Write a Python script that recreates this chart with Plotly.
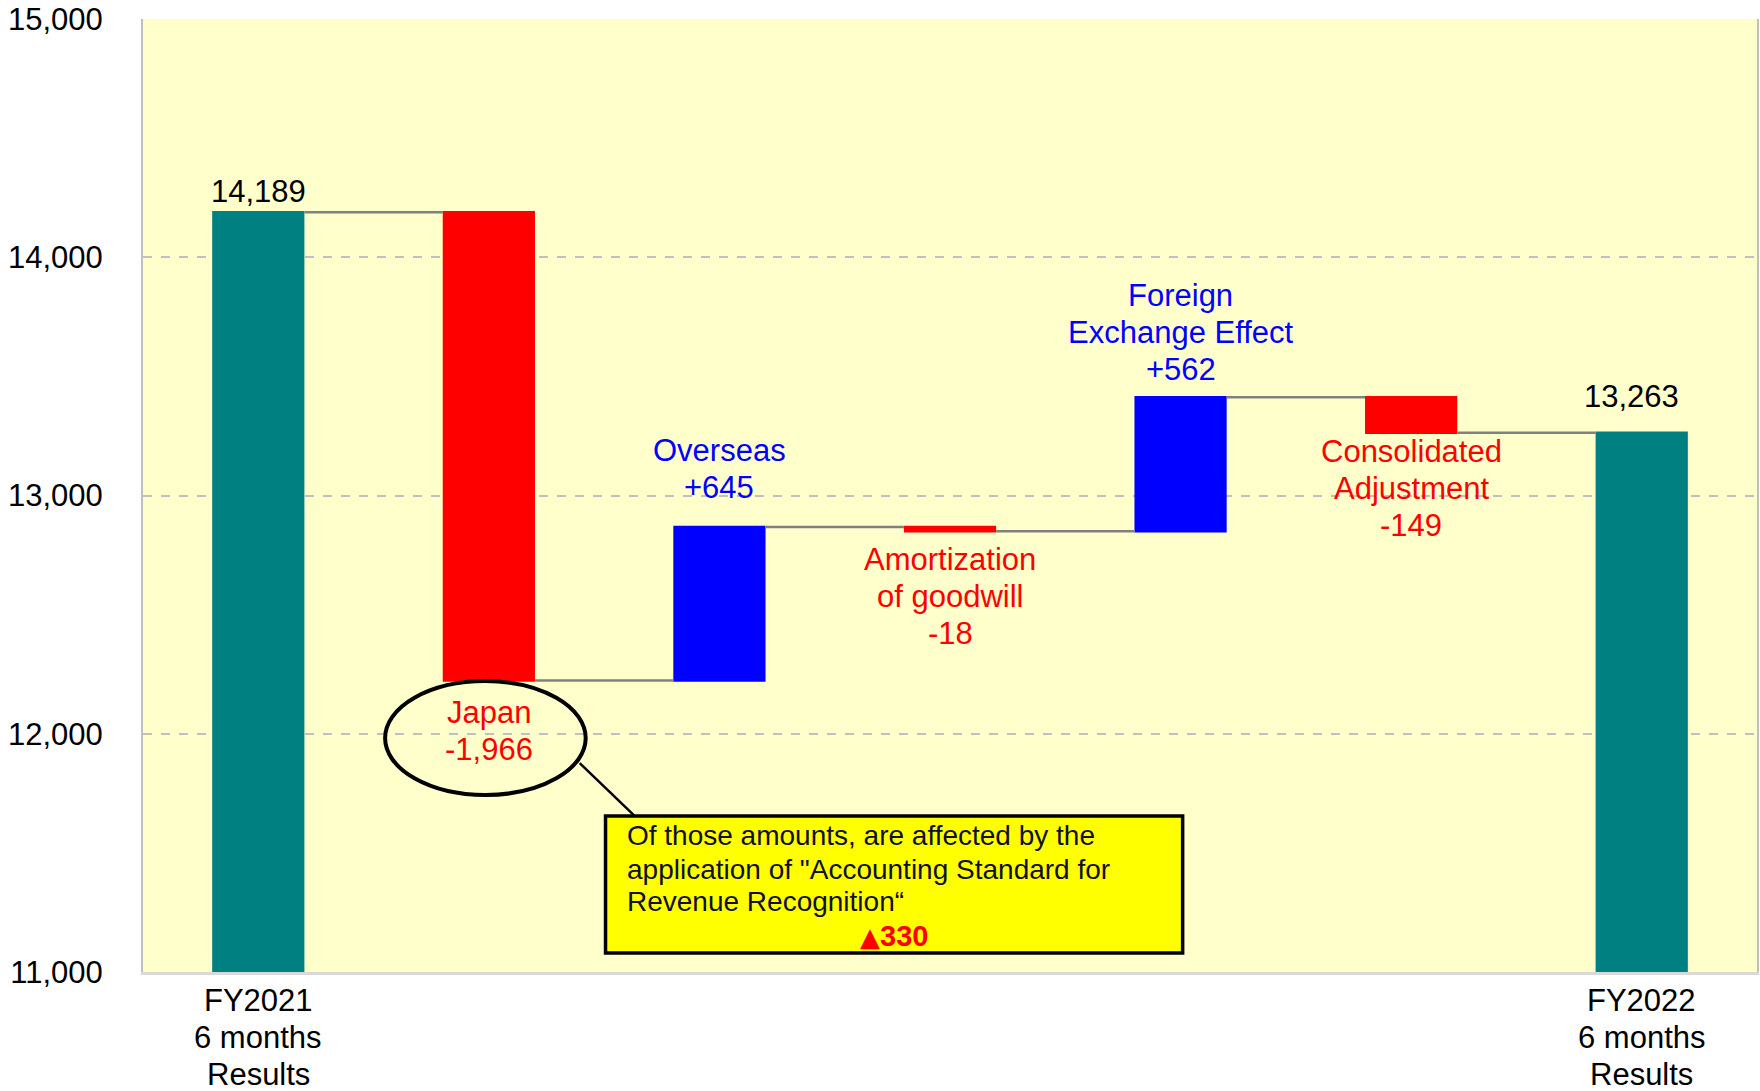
import plotly.graph_objects as go

# ---- data ----
categories = ["FY2021 6 months Results", "Japan", "Overseas", "Amortization of goodwill",
              "Foreign Exchange Effect", "Consolidated Adjustment", "FY2022 6 months Results"]
tick_text = ["FY2021<br>6 months<br>Results", "", "", "", "", "", "FY2022<br>6 months<br>Results"]
values = [14189, -1966, 645, -18, 562, -149, 13263]
measures = ["absolute", "relative", "relative", "relative", "relative", "relative", "total"]
label_text = ["14,189", "Japan<br>-1,966", "Overseas<br>+645", "Amortization<br>of goodwill<br>-18",
              "Foreign<br>Exchange Effect<br>+562", "Consolidated<br>Adjustment<br>-149", "13,263"]
y_ticks = [11000, 12000, 13000, 14000, 15000]
note_lines = ["Of those amounts, are affected by the",
              'application of "Accounting Standard for',
              "Revenue Recognition“"]
note_mark = "▲"
note_value = "330"

FONT = "Liberation Sans, Arial, sans-serif"
TEAL, RED, BLUE = "#008080", "#FF0000", "#0000FF"
LINE = 37  # px between text lines

x_idx = list(range(len(categories)))

fig = go.Figure(go.Waterfall(
    x=x_idx, y=values, measure=measures,
    increasing=dict(marker=dict(color=BLUE)),
    decreasing=dict(marker=dict(color=RED)),
    totals=dict(marker=dict(color=TEAL)),
    connector=dict(line=dict(color="#808080", width=2.5)),
    hoverinfo="skip",
))

# running levels for label placement
levels = []
running = 0
for v, m in zip(values, measures):
    if m == "absolute":
        start, end = 0, v
        running = v
    elif m == "total":
        start, end = 0, running
    else:
        start, end = running, running + v
        running += v
    levels.append((start, end))

colors = ["black", RED, BLUE, RED, BLUE, RED, "black"]
first_offset = [21, 32, 39, 28, 28, 19, 36]
xshifts = [0, 0, 0, 0, 0, 0, -10]
for i, (txt, (s, e)) in enumerate(zip(label_text, levels)):
    lines = txt.split("<br>")
    above = not (measures[i] == "relative" and values[i] < 0)
    if above:
        ref = max(s, e)
        for k, ln in enumerate(reversed(lines)):
            fig.add_annotation(x=i, y=ref, text=ln, showarrow=False, yanchor="middle",
                               yshift=first_offset[i] + k * LINE, xshift=xshifts[i],
                               font=dict(family=FONT, size=31, color=colors[i]))
    else:
        ref = min(s, e)
        for k, ln in enumerate(lines):
            fig.add_annotation(x=i, y=ref, text=ln, showarrow=False, yanchor="middle",
                               yshift=-(first_offset[i] + k * LINE), xshift=xshifts[i],
                               font=dict(family=FONT, size=31, color=colors[i]))

# x category labels (three lines each)
for i, t in enumerate(tick_text):
    for k, ln in enumerate(t.split("<br>") if t else []):
        fig.add_annotation(x=i, y=0, xref="x", yref="paper", text=ln, showarrow=False,
                           yanchor="middle", yshift=-(28 + k * LINE),
                           font=dict(family=FONT, size=31, color="black"))

# ellipse around Japan label
fig.add_shape(type="circle", xref="x", yref="y", x0=0.55, x1=1.42, y0=11743, y1=12221,
              line=dict(color="black", width=4))
# pointer line
fig.add_shape(type="line", xref="x", yref="y", x0=1.394, y0=11877, x1=1.632, y1=11655,
              line=dict(color="black", width=2.5))
# note box
fig.add_shape(type="rect", xref="x", yref="y", x0=1.506, x1=4.009, y0=11080, y1=11655,
              fillcolor="#FFFF00", line=dict(color="black", width=3.5))
note_y = [11571, 11432, 11294]
for ln, yy in zip(note_lines, note_y):
    fig.add_annotation(x=1.589, y=yy, xref="x", yref="y", text=ln, showarrow=False,
                       xanchor="left", yanchor="middle",
                       font=dict(family=FONT, size=28, color="#101030"))
fig.add_annotation(x=2.758, y=11151, xref="x", yref="y",
                   text='<span style="font-family:DejaVu Sans;font-size:26px">' + note_mark
                        + '</span><b>' + note_value + '</b>',
                   showarrow=False, xanchor="center", yanchor="middle",
                   font=dict(family=FONT, size=29, color=RED))

fig.update_layout(
    width=1760, height=1091,
    margin=dict(l=143, r=1, t=19, b=119),
    paper_bgcolor="white", plot_bgcolor="#FFFFCC",
    showlegend=False,
    waterfallgap=0.6,
    font=dict(family=FONT, size=31, color="black"),
)
fig.update_xaxes(
    tickmode="array", tickvals=x_idx, ticktext=tick_text, showticklabels=False,
    range=[-0.5, 6.5], showgrid=False, zeroline=False,
    showline=True, linecolor="#D9D9D9", linewidth=3, mirror=False,
)
fig.update_yaxes(
    range=[11000, 15000], tickvals=y_ticks, tickformat=",",
    showgrid=True, gridcolor="#C0C0C0", griddash="dash", gridwidth=1.5,
    zeroline=False, showline=True, linecolor="#BFBFBF", linewidth=2, mirror=True,
    ticks="outside", ticklen=32, tickcolor="rgba(0,0,0,0)",
    tickfont=dict(family=FONT, size=31, color="black"),
)

fig.write_html("out.html")
